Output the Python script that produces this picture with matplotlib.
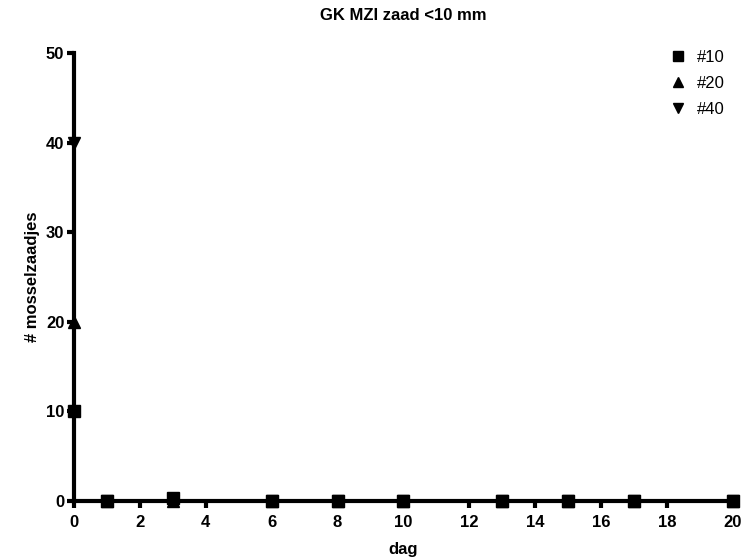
import matplotlib
matplotlib.use("Agg")
import matplotlib.pyplot as plt

plt.rcParams['font.family'] = ['Liberation Sans', 'DejaVu Sans']

# data
dag = [0, 1, 3, 6, 8, 10, 13, 15, 17, 20]
n10 = [10, 0, 0.3, 0, 0, 0, 0, 0, 0, 0]
n20 = [20, 0, 0, 0, 0, 0, 0, 0, 0, 0]
n40 = [40, 0, 0, 0, 0, 0, 0, 0, 0, 0]
series = [("#10", n10, "s"), ("#20", n20, "^"), ("#40", n40, "v")]

fig = plt.figure(figsize=(7.49, 5.58), dpi=100)
ax = fig.add_axes([0.0988, 0.1022, 0.8798, 0.8028])

for label, vals, m in series:
    ax.plot(dag, vals, linestyle="none", color="black", marker=m,
            markersize=8, clip_on=False, zorder=3, label=label)

ax.set_xlim(0, 20)
ax.set_ylim(0, 50)
ax.set_xticks(range(0, 21, 2))
ax.set_yticks(range(0, 51, 10))

for side in ("top", "right"):
    ax.spines[side].set_visible(False)
for side in ("left", "bottom"):
    ax.spines[side].set_linewidth(3)
ax.tick_params(width=3, length=5, labelsize=12)
ax.tick_params(axis="x", pad=5)
ax.tick_params(axis="y", pad=2)
for lbl in ax.get_xticklabels() + ax.get_yticklabels():
    lbl.set_fontweight("bold")

ax.set_xlabel("dag", fontsize=12, fontweight="bold", labelpad=9)
ax.set_ylabel("# mosselzaadjes", fontsize=12, fontweight="bold", labelpad=4)
ax.set_title("GK MZI zaad <10 mm", fontsize=12, fontweight="bold", pad=24)

ax.legend(loc="upper right", frameon=False, fontsize=12, markerscale=0.9,
          handletextpad=0.6, handlelength=1.0, labelspacing=0.65,
          bbox_to_anchor=(1.01, 1.04))

fig.savefig("out.png", dpi=100)
